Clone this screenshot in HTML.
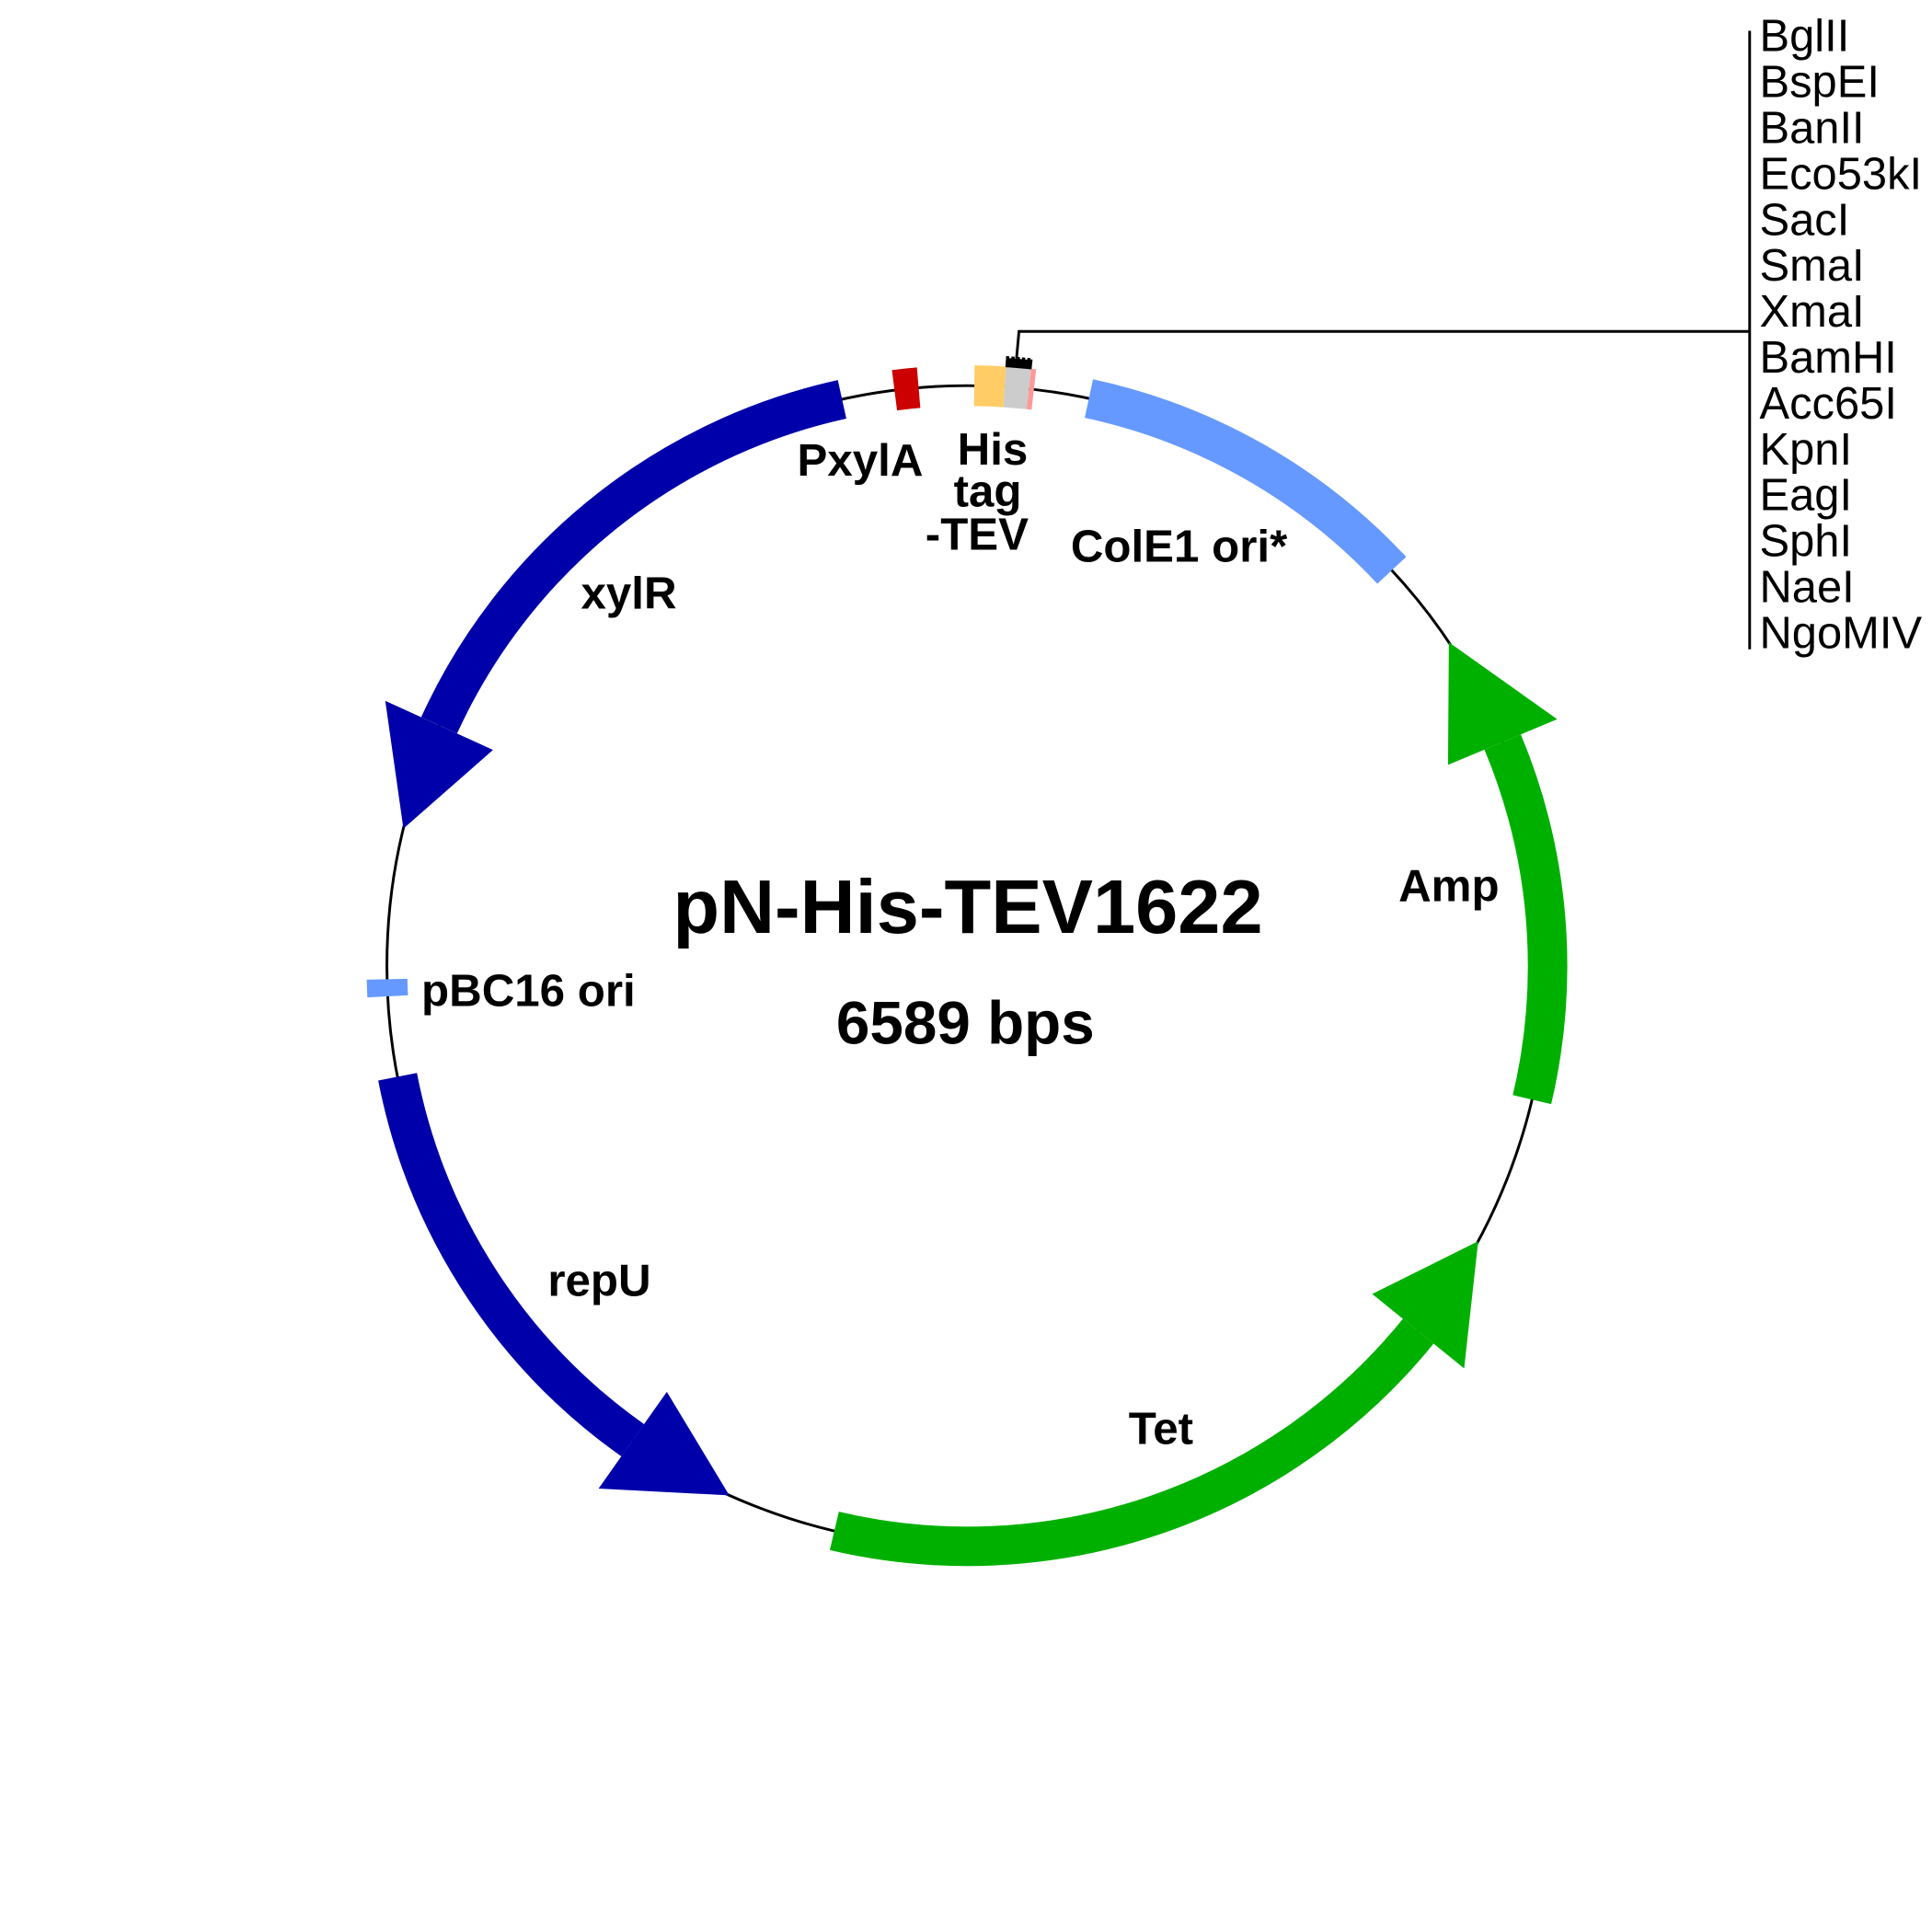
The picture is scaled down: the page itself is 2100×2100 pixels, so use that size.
<!DOCTYPE html>
<html>
<head>
<meta charset="utf-8">
<style>
  html, body { margin: 0; padding: 0; background: #ffffff; }
  body { width: 2100px; height: 2100px; overflow: hidden; }
  svg { display: block; }
  .lab { font-family: "Liberation Sans", Arial, sans-serif; font-weight: bold; font-size: 36.8px; fill: #000; }
  .enz { font-family: "Liberation Sans", Arial, sans-serif; font-weight: normal; font-size: 36.5px; fill: #000; }
</style>
</head>
<body>
<svg width="2100" height="2100" viewBox="0 0 1568 1568" xmlns="http://www.w3.org/2000/svg">
  <rect x="0" y="0" width="1568" height="1568" fill="#ffffff"/>

  <!-- backbone circle -->
  <circle cx="785" cy="784" r="471" fill="none" stroke="#000" stroke-width="2.2"/>

  <!-- feature bands (arcs) -->
  <circle cx="785" cy="784" r="471" fill="none" stroke="#0000AA" stroke-width="32"
          stroke-dasharray="436 3000" transform="rotate(204.5 785 784)"/>
  <circle cx="785" cy="784" r="471" fill="none" stroke="#00B000" stroke-width="32"
          stroke-dasharray="296 3000" transform="rotate(-22.7 785 784)"/>
  <circle cx="785" cy="784" r="471" fill="none" stroke="#00B000" stroke-width="32"
          stroke-dasharray="528 3000" transform="rotate(39 785 784)"/>
  <circle cx="785" cy="784" r="471" fill="none" stroke="#0000AA" stroke-width="32"
          stroke-dasharray="360 3000" transform="rotate(125.2 785 784)"/>
  <circle cx="785" cy="784" r="471" fill="none" stroke="#6699FF" stroke-width="32"
          stroke-dasharray="287 3000" transform="rotate(-77.9 785 784)"/>
  <circle cx="785" cy="784" r="471" fill="none" stroke="#CC0000" stroke-width="33"
          stroke-dasharray="19.7 3000" transform="rotate(262.8 785 784)"/>
  <circle cx="785" cy="784" r="471" fill="none" stroke="#FFCC66" stroke-width="33"
          stroke-dasharray="24.7 3000" transform="rotate(-89.3 785 784)"/>
  <circle cx="785" cy="784" r="471" fill="none" stroke="#CCCCCC" stroke-width="33"
          stroke-dasharray="19.7 3000" transform="rotate(-86.3 785 784)"/>
  <circle cx="785" cy="784" r="471" fill="none" stroke="#FF9999" stroke-width="33"
          stroke-dasharray="4.1 3000" transform="rotate(-83.9 785 784)"/>
  <!-- pBC16 ori -->
  <circle cx="785" cy="784" r="471" fill="none" stroke="#6699FF" stroke-width="33"
          stroke-dasharray="14 3000" transform="rotate(177.0 785 784)"/>

  <!-- arrowheads -->
  <polygon points="312.7,568.8 400.1,608.6 327.4,672.5" fill="#0000AA"/>
  <polygon points="1263.8,583.7 1175.2,620.8 1175.9,521.3" fill="#00B000"/>
  <polygon points="1188.3,1110.6 1113.7,1050.2 1199.7,1007.3" fill="#00B000"/>
  <polygon points="485.8,1208.1 541.2,1129.6 591.9,1213.6" fill="#0000AA"/>

  <!-- restriction site ticks -->
  <g stroke="#000" stroke-width="2.6">
    <line x1="785" y1="297" x2="785" y2="288" transform="rotate(3.8 785 784)"/>
    <line x1="785" y1="297" x2="785" y2="289.5" transform="rotate(4.05 785 784)"/>
    <line x1="785" y1="297" x2="785" y2="288" transform="rotate(4.3 785 784)"/>
    <line x1="785" y1="297" x2="785" y2="289.5" transform="rotate(4.55 785 784)"/>
    <line x1="785" y1="297" x2="785" y2="288" transform="rotate(4.8 785 784)"/>
    <line x1="785" y1="297" x2="785" y2="289.5" transform="rotate(5.05 785 784)"/>
    <line x1="785" y1="297" x2="785" y2="288" transform="rotate(5.3 785 784)"/>
    <line x1="785" y1="297" x2="785" y2="289.5" transform="rotate(5.55 785 784)"/>
    <line x1="785" y1="297" x2="785" y2="288" transform="rotate(5.8 785 784)"/>
    <line x1="785" y1="297" x2="785" y2="289" transform="rotate(6.0 785 784)"/>
  </g>

  <!-- connector to enzyme list -->
  <polyline points="825,291 827,269 1420,269" fill="none" stroke="#000" stroke-width="2.2"/>
  <line x1="1420" y1="25" x2="1420" y2="527" stroke="#000" stroke-width="2.2"/>

  <!-- enzyme list -->
  <g class="enz">
    <text x="1428" y="41.5">BglII</text>
    <text x="1428" y="78.8">BspEI</text>
    <text x="1428" y="116.0">BanII</text>
    <text x="1428" y="153.3">Eco53kI</text>
    <text x="1428" y="190.6">SacI</text>
    <text x="1428" y="227.8">SmaI</text>
    <text x="1428" y="265.1">XmaI</text>
    <text x="1428" y="302.4">BamHI</text>
    <text x="1428" y="339.7">Acc65I</text>
    <text x="1428" y="376.9">KpnI</text>
    <text x="1428" y="414.2">EagI</text>
    <text x="1428" y="451.5">SphI</text>
    <text x="1428" y="488.7">NaeI</text>
    <text x="1428" y="526.0">NgoMIV</text>
  </g>

  <!-- feature labels -->
  <g class="lab">
    <text x="647" y="386">PxylA</text>
    <text x="777" y="377">His</text>
    <text x="774" y="411">tag</text>
    <text x="751" y="446">-TEV</text>
    <text x="869" y="456">ColE1 ori*</text>
    <text x="471.5" y="494">xylR</text>
    <text x="1135" y="731.5">Amp</text>
    <text x="342" y="816.5">pBC16 ori</text>
    <text x="444.5" y="1051.5">repU</text>
    <text x="916" y="1172">Tet</text>
  </g>

  <!-- title -->
  <text x="785.5" y="757" text-anchor="middle"
        style="font-family:'Liberation Sans', Arial, sans-serif; font-weight:bold; font-size:62px;">pN-His-TEV1622</text>
  <text x="783.5" y="847" text-anchor="middle"
        style="font-family:'Liberation Sans', Arial, sans-serif; font-weight:bold; font-size:49px;">6589 bps</text>
</svg>
</body>
</html>
